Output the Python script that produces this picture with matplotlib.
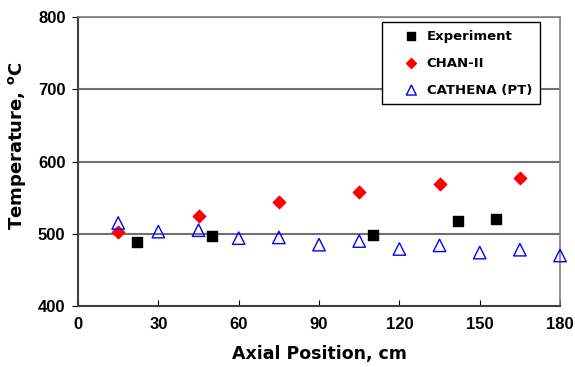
import matplotlib
matplotlib.use("Agg")
import matplotlib.pyplot as plt

exp_x = [22, 50, 110, 142, 156]
exp_y = [489, 497, 498, 518, 520]
chan_x = [15, 45, 75, 105, 135, 165]
chan_y = [503, 525, 544, 558, 569, 577]
cat_x = [15, 30, 45, 60, 75, 90, 105, 120, 135, 150, 165, 180]
cat_y = [515, 503, 505, 494, 495, 485, 490, 479, 484, 474, 478, 470]
xticks = [0, 30, 60, 90, 120, 150, 180]
yticks = [400, 500, 600, 700, 800]

plt.rcParams['font.family'] = ['Liberation Sans', 'DejaVu Sans']
plt.rcParams['font.weight'] = 'bold'

fig = plt.figure(figsize=(5.75, 3.67), dpi=100)
ax = fig.add_axes([0.1357, 0.166, 0.8383, 0.7877])

for y in yticks[1:]:
    ax.axhline(y, color='#707070', lw=1.5, zorder=1)

ax.scatter(exp_x, exp_y, marker='s', s=60, color='black', label='Experiment', zorder=3, clip_on=False)
ax.scatter(chan_x, chan_y, marker='D', s=40, color='red', label='CHAN-II', zorder=3, clip_on=False)
ax.scatter(cat_x, cat_y, marker='^', s=80, facecolor='none', edgecolor='blue', linewidths=1.0,
           label='CATHENA (PT)', zorder=4, clip_on=False)

ax.set_xlim(0, 180)
ax.set_ylim(400, 800)
ax.set_xticks(xticks)
ax.set_yticks(yticks)
ax.tick_params(axis='x', direction='in', length=4, labelsize=12, pad=8)
ax.tick_params(axis='y', direction='out', length=4, labelsize=12, pad=5)
for lbl in ax.get_xticklabels() + ax.get_yticklabels():
    lbl.set_fontweight('bold')
for s in ['left', 'bottom']:
    ax.spines[s].set_color('#404040')
    ax.spines[s].set_linewidth(1.5)
for s in ['top', 'right']:
    ax.spines[s].set_color('#808080')
    ax.spines[s].set_linewidth(1.2)

ax.set_xlabel('Axial Position, cm', fontsize=12.5, fontweight='bold', family='DejaVu Sans')
ax.set_ylabel('Temperature, $^{\\mathregular{o}}$C', fontsize=13, fontweight='bold', family='DejaVu Sans')
ax.xaxis.set_label_coords(0.5, -0.135)
ax.yaxis.set_label_coords(-0.103, 0.554)

leg = ax.legend(loc='upper right', bbox_to_anchor=(0.958, 0.983), frameon=True, fancybox=False,
                edgecolor='black', framealpha=1, prop={'family': 'DejaVu Sans', 'size': 9.5, 'weight': 'bold'},
                handletextpad=-0.5, handlelength=3.3, borderpad=0.6, labelspacing=1.05,
                markerscale=0.8, borderaxespad=0)
leg.get_frame().set_linewidth(1.0)
leg.set_zorder(5)

fig.savefig('out.png', dpi=100)
